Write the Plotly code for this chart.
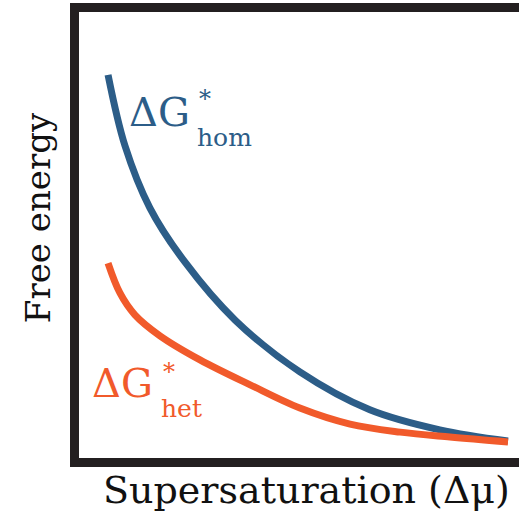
import plotly.graph_objects as go

# Schematic nucleation barriers versus supersaturation (arbitrary units)
hom_x = [0.66, 1.045, 1.61, 2.41, 3.55, 5.02, 6.61, 8.20, 9.75]
hom_y = [8.59, 7.00, 5.61, 4.39, 3.09, 1.93, 1.08, 0.63, 0.38]

het_x = [0.66, 0.93, 1.27, 1.84, 2.75, 3.89, 5.02, 6.16, 7.30, 8.43, 9.75]
het_y = [4.37, 3.70, 3.21, 2.74, 2.20, 1.64, 1.12, 0.76, 0.58, 0.47, 0.36]

BLUE = "#2c5d88"
ORANGE = "#f15a2b"
FRAME = "#231f20"
INK = "#111111"
SERIF = "DejaVu Serif"

fig = go.Figure()
fig.add_trace(go.Scatter(x=hom_x, y=hom_y, mode="lines",
                         line=dict(color=BLUE, width=7, shape="spline", smoothing=1.0),
                         hoverinfo="skip", showlegend=False))
fig.add_trace(go.Scatter(x=het_x, y=het_y, mode="lines",
                         line=dict(color=ORANGE, width=7, shape="spline", smoothing=1.0),
                         hoverinfo="skip", showlegend=False))


def barrier_label(x, y, sub, color, star_dy=0.5, sub_dy=-0.4):
    # ΔG with a starred superscript and a subscript set under the star
    fig.add_annotation(x=x, y=y, xref="x", yref="y", text="ΔG", showarrow=False,
                       xanchor="left", yanchor="bottom",
                       font=dict(family=SERIF, size=40, color=color))
    fig.add_annotation(x=x + 1.6, y=y + star_dy, xref="x", yref="y", text="*", showarrow=False,
                       xanchor="left", yanchor="bottom",
                       font=dict(family=SERIF, size=24, color=color))
    fig.add_annotation(x=x + 1.55, y=y + sub_dy, xref="x", yref="y", text=sub, showarrow=False,
                       xanchor="left", yanchor="bottom",
                       font=dict(family=SERIF, size=25, color=color))


barrier_label(1.08, 7.2, "hom", BLUE, star_dy=0.5, sub_dy=-0.39)
barrier_label(0.26, 1.13, "het", ORANGE, star_dy=0.45, sub_dy=-0.4)

# Axis titles
fig.add_annotation(x=0.516, y=-0.072, xref="paper", yref="paper",
                   text="Supersaturation (Δμ)", showarrow=False,
                   xanchor="center", yanchor="middle",
                   font=dict(family=SERIF, size=38, color=INK))
fig.add_annotation(x=-0.093, y=0.538, xref="paper", yref="paper",
                   text="Free energy", showarrow=False, textangle=-90,
                   xanchor="center", yanchor="middle",
                   font=dict(family=SERIF, size=34, color=INK))

fig.update_layout(
    width=519, height=515,
    margin=dict(l=79, r=0, t=12, b=57),
    paper_bgcolor="white", plot_bgcolor="white",
    xaxis=dict(range=[0, 10], showgrid=False, zeroline=False, showticklabels=False,
               ticks="", showline=True, linecolor=FRAME, linewidth=9, mirror=True),
    yaxis=dict(range=[0, 10], showgrid=False, zeroline=False, showticklabels=False,
               ticks="", showline=True, linecolor=FRAME, linewidth=9, mirror=False),
)

fig.write_html("out.html")
